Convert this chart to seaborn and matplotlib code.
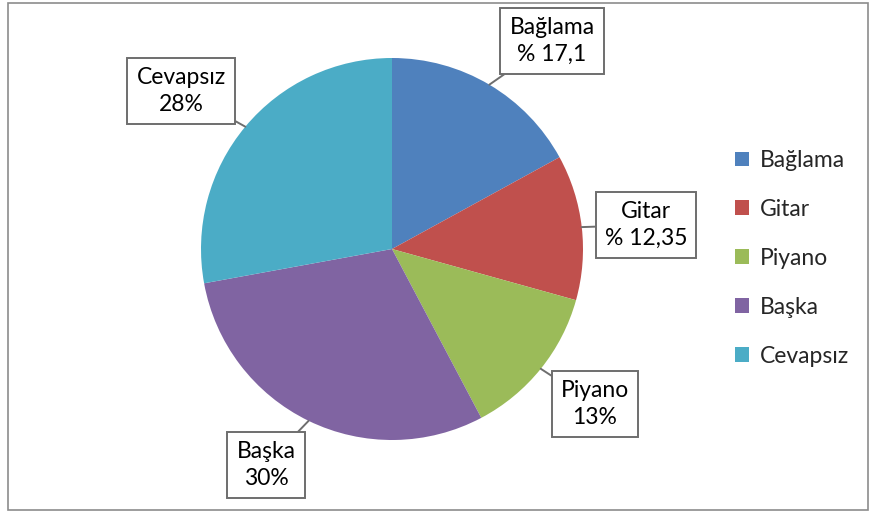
import numpy as np
import seaborn as sns
import matplotlib.pyplot as plt
from matplotlib.patches import Rectangle

categories = ["Bağlama", "Gitar", "Piyano", "Başka", "Cevapsız"]
values = [17.1, 12.35, 13, 30, 28]
value_labels = ["% 17,1", "% 12,35", "13%", "30%", "28%"]
colors = ["#4F81BD", "#C0504D", "#9BBB59", "#8064A2", "#4BACC6"]

# label box centres, figure pixels (x from left, y from top)
label_pos = [(552, 41), (646, 225), (595, 404), (266, 465), (181, 91)]

W, H = 869, 513

sns.set_theme(style="white")
plt.rcParams['font.family'] = ['Lato', 'DejaVu Sans']

fig = plt.figure(figsize=(W / 100, H / 100), dpi=100)
fig.patch.set_facecolor("white")

# outer chart frame
fig.add_artist(Rectangle((8 / W, 3 / H), 860 / W, 507 / H, transform=fig.transFigure,
                         fill=False, edgecolor="#8c8c8c", linewidth=1.2))

cx, cy, r = 392, 249, 191
ax = fig.add_axes([(cx - r) / W, (H - cy - r) / H, 2 * r / W, 2 * r / H])
palette = sns.color_palette(colors)
wedges, _ = ax.pie(values, colors=palette, startangle=90, counterclock=False,
                   radius=1, wedgeprops=dict(linewidth=0))
ax.set_xlim(-1, 1)
ax.set_ylim(-1, 1)
ax.set_aspect("equal")
ax.axis("off")

for w, name, val, (px, py) in zip(wedges, categories, value_labels, label_pos):
    mid = np.deg2rad((w.theta1 + w.theta2) / 2)
    tip = (np.cos(mid), np.sin(mid))
    ax.annotate(f"{name}\n{val}", xy=tip, xycoords="data",
                xytext=(px / W, 1 - py / H), textcoords="figure fraction",
                ha="center", va="center", fontsize=16.5, linespacing=1.3,
                color="black",
                bbox=dict(boxstyle="square,pad=0.4", fc="white", ec="#6e6e6e", lw=1.4),
                arrowprops=dict(arrowstyle="-", color="#6e6e6e", lw=1.4,
                                shrinkA=0, shrinkB=0),
                annotation_clip=False)

fig.legend(wedges, categories, loc="upper left", bbox_to_anchor=(735 / W, 1 - 150 / H),
           frameon=False, fontsize=16.5, handlelength=0.62, handleheight=0.62,
           handletextpad=0.45, labelspacing=1.22, borderaxespad=0, borderpad=0)

fig.savefig("out.png", dpi=100)
